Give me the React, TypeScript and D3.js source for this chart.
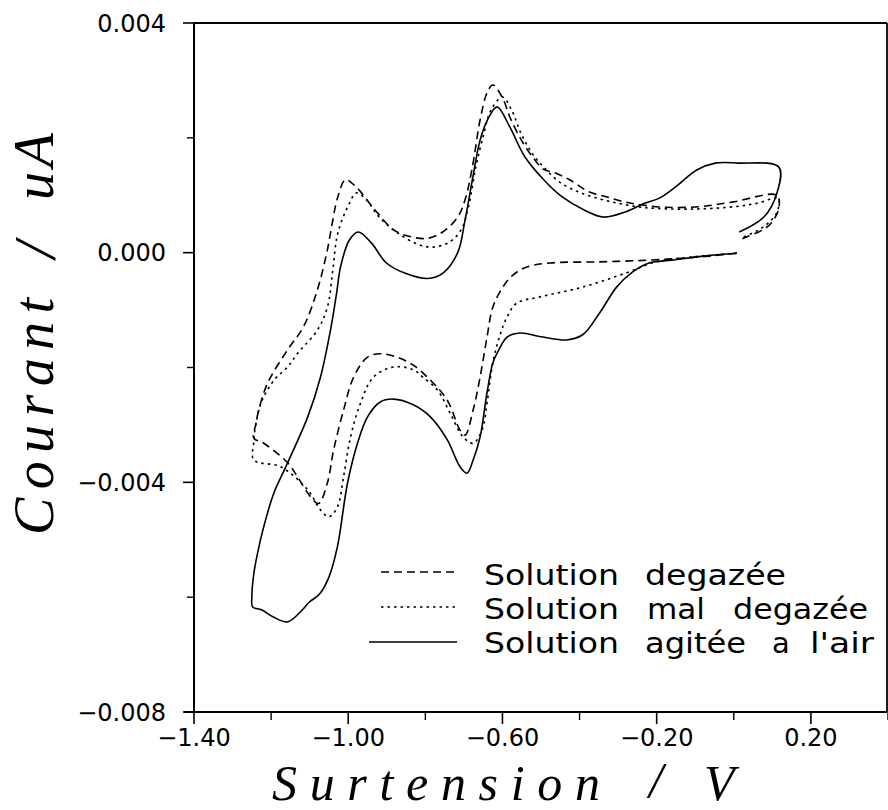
import React from "react";
import * as d3 from "d3";

const W = 888;
const H = 810;

// Axis ticks
const xMajorTicks = [-1.4, -1.0, -0.6, -0.2, 0.2];
const xMinorTicks = [-1.2, -0.8, -0.4, 0.0, 0.4];
const xTickLabels = ["\u22121.40", "\u22121.00", "\u22120.60", "\u22120.20", "0.20"];
const yMajorTicks = [0.004, 0.0, -0.004, -0.008];
const yMinorTicks = [0.002, -0.002, -0.006];
const yTickLabels = ["0.004", "0.000", "\u22120.004", "\u22120.008"];

// Current values are given in units of 1e-3 (the axis unit)
const currentUnit = 0.001;

// Solution degazée (dashed)
const degazeeV = [0.008, -0.1, -0.219, -0.348, -0.477, -0.537, -0.573, -0.599, -0.625, -0.64, -0.658, -0.676, -0.697, -0.71, -0.743, -0.787, -0.831, -0.873, -0.917, -0.95, -0.986, -1.012, -1.038, -1.054, -1.077, -1.098, -1.131, -1.157, -1.219, -1.245, -1.24, -1.232, -1.209, -1.157, -1.116, -1.08, -1.054, -1.046, -1.027, -1.007, -0.979, -0.93, -0.881, -0.833, -0.794, -0.755, -0.716, -0.697, -0.678, -0.658, -0.639, -0.625, -0.6, -0.58, -0.55, -0.52, -0.493, -0.464, -0.426, -0.376, -0.329, -0.281, -0.237, -0.175, -0.09, -0.004, 0.112, 0.117, 0.099, 0.073, 0.032, 0.014];
const degazeeI = [-0.01, -0.08, -0.13, -0.16, -0.18, -0.25, -0.39, -0.6, -0.95, -1.47, -2.17, -2.74, -3.18, -3.09, -2.57, -2.22, -1.96, -1.82, -1.76, -1.82, -2.17, -2.74, -3.44, -4.01, -4.37, -4.25, -3.91, -3.66, -3.32, -3.23, -3.0, -2.74, -2.27, -1.69, -1.29, -0.65, 0.05, 0.34, 0.97, 1.27, 1.14, 0.74, 0.39, 0.27, 0.25, 0.36, 0.62, 0.92, 1.49, 2.31, 2.8, 2.92, 2.7, 2.35, 1.95, 1.65, 1.45, 1.39, 1.27, 1.06, 0.97, 0.88, 0.83, 0.79, 0.8, 0.88, 1.0, 0.78, 0.53, 0.39, 0.27, 0.22];

// Solution mal degazée (dotted)
const malV = [0.008, -0.1, -0.201, -0.278, -0.392, -0.503, -0.563, -0.588, -0.607, -0.625, -0.64, -0.653, -0.676, -0.702, -0.736, -0.769, -0.806, -0.831, -0.883, -0.935, -0.968, -0.994, -1.012, -1.028, -1.05, -1.072, -1.105, -1.175, -1.245, -1.245, -1.24, -1.225, -1.19, -1.157, -1.131, -1.08, -1.054, -1.04, -1.027, -0.997, -0.979, -0.953, -0.92, -0.871, -0.813, -0.775, -0.736, -0.707, -0.688, -0.669, -0.648, -0.63, -0.6, -0.576, -0.552, -0.523, -0.493, -0.45, -0.4, -0.35, -0.3, -0.25, -0.2, -0.1, 0.0, 0.06, 0.115, 0.113, 0.09, 0.06, 0.02];
const malI = [-0.01, -0.07, -0.16, -0.35, -0.6, -0.77, -0.88, -1.12, -1.45, -1.92, -2.62, -3.09, -3.32, -3.21, -2.79, -2.39, -2.17, -2.04, -1.99, -2.17, -2.62, -3.21, -3.9, -4.43, -4.6, -4.48, -4.13, -3.73, -3.61, -3.3, -3.0, -2.6, -2.2, -1.99, -1.75, -1.35, -0.95, -0.3, 0.34, 0.86, 1.04, 0.92, 0.62, 0.34, 0.13, 0.1, 0.19, 0.4, 0.8, 1.49, 2.08, 2.48, 2.71, 2.48, 2.08, 1.73, 1.49, 1.22, 1.05, 0.94, 0.86, 0.8, 0.77, 0.76, 0.8, 0.86, 0.95, 0.72, 0.52, 0.38, 0.26];

// Solution agitée a l'air (solid)
const agiteeV = [0.008, -0.08, -0.16, -0.22, -0.263, -0.304, -0.348, -0.392, -0.433, -0.495, -0.555, -0.588, -0.61, -0.625, -0.64, -0.658, -0.676, -0.692, -0.71, -0.743, -0.787, -0.831, -0.883, -0.917, -0.95, -0.976, -1.002, -1.028, -1.05, -1.075, -1.1, -1.123, -1.157, -1.193, -1.225, -1.248, -1.25, -1.245, -1.235, -1.219, -1.193, -1.162, -1.105, -1.072, -1.046, -1.03, -1.02, -0.997, -0.974, -0.94, -0.901, -0.852, -0.794, -0.755, -0.716, -0.697, -0.678, -0.658, -0.639, -0.614, -0.581, -0.542, -0.493, -0.445, -0.387, -0.338, -0.281, -0.232, -0.193, -0.154, -0.096, -0.048, 0.011, 0.117, 0.112, 0.078, 0.014];
const agiteeI = [-0.01, -0.06, -0.13, -0.18, -0.34, -0.6, -1.05, -1.43, -1.52, -1.47, -1.4, -1.47, -1.7, -1.92, -2.44, -3.21, -3.61, -3.84, -3.73, -3.26, -2.86, -2.65, -2.55, -2.6, -2.86, -3.32, -4.02, -5.12, -5.65, -5.95, -6.08, -6.25, -6.43, -6.35, -6.22, -6.17, -6.0, -5.6, -5.23, -4.77, -4.19, -3.73, -2.86, -2.17, -1.35, -0.7, -0.25, 0.22, 0.36, 0.17, -0.18, -0.36, -0.45, -0.36, 0.0, 0.57, 1.27, 1.96, 2.31, 2.54, 2.19, 1.67, 1.27, 0.97, 0.74, 0.62, 0.71, 0.86, 0.95, 1.13, 1.44, 1.56, 1.56, 1.49, 1.04, 0.62, 0.36];

const seriesLabels = [
  ["Solution", "degazée"],
  ["Solution", "mal", "degazée"],
  ["Solution", "agitée", "a", "l'air"],
];

const FONT = "'DejaVu Sans', 'Liberation Sans', sans-serif";
const SERIF = "'Liberation Serif', 'DejaVu Serif', serif";

export default function App() {
  const x = d3.scaleLinear().domain([-1.4, 0.4]).range([194, 888]);
  const y = d3.scaleLinear().domain([-0.008, 0.004]).range([712, 23]);

  const line = d3
    .line<[number, number]>()
    .x((d) => x(d[0]))
    .y((d) => y(d[1] * currentUnit))
    .curve(d3.curveCatmullRom.alpha(0.5));

  const toPts = (vs: number[], is: number[]) => vs.map((v, i) => [v, is[i]] as [number, number]);

  const series = [
    { pts: toPts(degazeeV, degazeeI), dash: "8,5" },
    { pts: toPts(malV, malI), dash: "2.5,4" },
    { pts: toPts(agiteeV, agiteeI), dash: "none" },
  ];

  // legend layout (word positions / widths; 0 = natural width)
  const legendRows = [
    { y: 585, lineY: 572, x1: 381, words: [[484, 135], [645, 141]] },
    { y: 619, lineY: 607, x1: 381, words: [[484, 135], [647, 58], [733, 135]] },
    { y: 653, lineY: 642, x1: 369, words: [[484, 135], [645, 101], [772, 0], [810, 64]] },
  ];

  const x0 = x(-1.4);
  const yBottom = y(-0.008);
  const yTop = y(0.004);

  return (
    <svg
      width={W}
      height={H}
      style={{ position: "absolute", left: 0, top: 0, background: "#fff" }}
    >
      <rect x={0} y={0} width={W} height={H} fill="#fff" />

      {/* frame */}
      <line x1={x0} y1={yTop} x2={887} y2={yTop} stroke="#000" strokeWidth={1.8} />
      <line x1={887} y1={yTop} x2={887} y2={yBottom} stroke="#000" strokeWidth={1.8} />
      <line x1={x0} y1={yTop} x2={x0} y2={yBottom} stroke="#000" strokeWidth={2} />
      <line x1={x0 - 10} y1={yBottom} x2={887} y2={yBottom} stroke="#000" strokeWidth={2} />

      {/* x ticks */}
      {xMajorTicks.map((t, i) => (
        <g key={"xm" + i}>
          <line x1={x(t)} x2={x(t)} y1={yBottom} y2={yBottom + 12} stroke="#000" strokeWidth={1.6} />
          <text
            x={x(t)}
            y={746}
            textAnchor="middle"
            fontFamily={FONT}
            fontSize={24}
            fill="#000"
          >
            {xTickLabels[i]}
          </text>
        </g>
      ))}
      {xMinorTicks.map((t, i) => (
        <line key={"xn" + i} x1={x(t)} x2={x(t)} y1={yBottom} y2={yBottom + 8} stroke="#000" strokeWidth={1.4} />
      ))}

      {/* y ticks */}
      {yMajorTicks.map((t, i) => (
        <g key={"ym" + i}>
          <line x1={x0 - 11} x2={x0} y1={y(t)} y2={y(t)} stroke="#000" strokeWidth={1.6} />
          <text
            x={166}
            y={y(t)}
            dy="0.36em"
            textAnchor="end"
            fontFamily={FONT}
            fontSize={24}
            fill="#000"
          >
            {yTickLabels[i]}
          </text>
        </g>
      ))}
      {yMinorTicks.map((t, i) => (
        <line key={"yn" + i} x1={x0 - 7} x2={x0} y1={y(t)} y2={y(t)} stroke="#000" strokeWidth={1.4} />
      ))}

      {/* curves */}
      {series.map((s, i) => (
        <path
          key={"s" + i}
          d={line(s.pts) || ""}
          fill="none"
          stroke="#000"
          strokeWidth={1.6}
          strokeDasharray={s.dash}
        />
      ))}

      {/* legend */}
      {legendRows.map((r, i) => (
        <g key={"lg" + i}>
          <line
            x1={r.x1}
            x2={457}
            y1={r.lineY}
            y2={r.lineY}
            stroke="#000"
            strokeWidth={1.3}
            strokeDasharray={series[i].dash}
          />
          {seriesLabels[i].map((w, j) =>
            r.words[j][1] > 0 ? (
              <text
                key={j}
                x={r.words[j][0]}
                y={r.y}
                textLength={r.words[j][1]}
                lengthAdjust="spacingAndGlyphs"
                fontFamily={FONT}
                fontSize={29}
                fill="#000"
              >
                {w}
              </text>
            ) : (
              <text key={j} x={r.words[j][0]} y={r.y} fontFamily={FONT} fontSize={29} fill="#000">
                {w}
              </text>
            )
          )}
        </g>
      ))}

      {/* x axis title */}
      <text
        x={272}
        y={800}
        textLength={328}
        lengthAdjust="spacing"
        fontFamily={SERIF}
        fontStyle="italic"
        fontSize={50}
        fill="#000"
      >
        Surtension
      </text>
      <text x={656} y={797} textAnchor="middle" fontFamily={SERIF} fontStyle="italic" fontSize={50} fill="#000">
        /
      </text>
      <text x={704} y={800} fontFamily={SERIF} fontStyle="italic" fontSize={50} fill="#000">
        V
      </text>

      {/* y axis title */}
      <text
        transform="translate(53,535) rotate(-90)"
        textLength={237}
        lengthAdjust="spacing"
        fontFamily={SERIF}
        fontStyle="italic"
        fontSize={56}
        fill="#000"
      >
        Courant
      </text>
      <text
        transform="translate(55,250) rotate(-90)"
        textAnchor="middle"
        fontFamily={SERIF}
        fontStyle="italic"
        fontSize={60}
        fill="#000"
      >
        /
      </text>
      <text
        transform="translate(53,200) rotate(-90)"
        textLength={67}
        lengthAdjust="spacing"
        fontFamily={SERIF}
        fontStyle="italic"
        fontSize={56}
        fill="#000"
      >
        uA
      </text>
    </svg>
  );
}
